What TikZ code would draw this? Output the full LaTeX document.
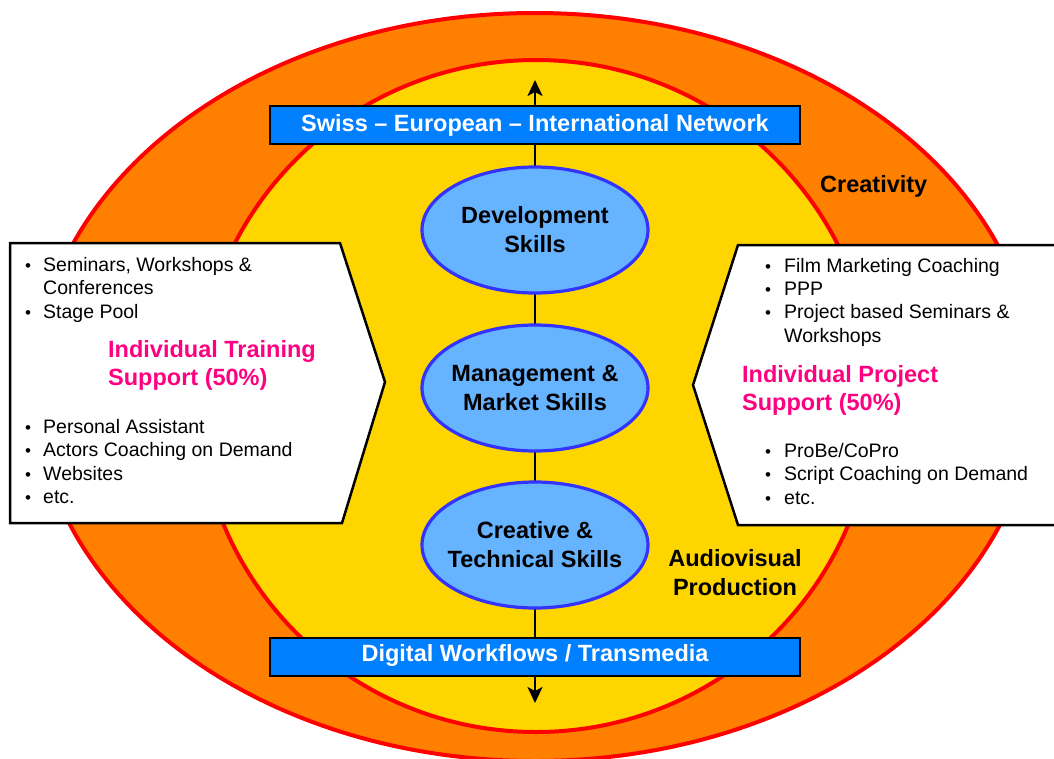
\documentclass[tikz,border=0pt]{standalone}
\usepackage{fontspec}
\setmainfont{Liberation Sans}
\usetikzlibrary{arrows.meta,shapes.geometric}
\definecolor{orng}{HTML}{FF8000}
\definecolor{yel}{HTML}{FFD500}
\definecolor{redline}{HTML}{FF0000}
\definecolor{boxblue}{HTML}{0080FF}
\definecolor{ellfill}{HTML}{66B3FF}
\definecolor{ellline}{HTML}{3333FF}
\definecolor{pinktxt}{HTML}{FF0080}
\begin{document}
\begin{tikzpicture}[x=1pt,y=-1pt,
  body/.style={anchor=base west,inner sep=0pt,font=\fontsize{19.5}{23.5}\selectfont},
  bul/.style={anchor=base west,inner sep=0pt,font=\fontsize{17}{19}\selectfont},
  pinklabel/.style={anchor=base west,inner sep=0pt,text=pinktxt,font=\bfseries\fontsize{23.5}{28}\selectfont},
  blacklabel/.style={inner sep=0pt,font=\bfseries\fontsize{23.5}{28}\selectfont},
  skill/.style={ellipse,draw=ellline,line width=3.2pt,fill=ellfill,minimum width=226pt,minimum height=126pt,inner xsep=-70pt,inner ysep=0pt,align=center,font=\bfseries\fontsize{23.5}{29}\selectfont},
  netbox/.style={rectangle,draw=black,line width=2pt,fill=boxblue,minimum width=530pt,minimum height=38pt,inner sep=0pt,text=white,font=\bfseries\fontsize{23.5}{28}\selectfont},
  sidebox/.style={draw=black,line width=2.5pt,fill=white,line join=miter},
  axisarrow/.style={line width=2.5pt,{Stealth[length=16pt,width=15pt,inset=4pt]}-{Stealth[length=16pt,width=15pt,inset=4pt]}}
]
\useasboundingbox (0,0) rectangle (1054,758);
% rings
\draw[fill=orng,draw=redline,line width=4pt] (535,387) ellipse [x radius=500, y radius=374];
\draw[fill=yel,draw=redline,line width=4pt] (536,396) ellipse [x radius=338, y radius=336];
\node[blacklabel,anchor=base west] (creat) at (820,192) {Creativity};
% axis arrow
\coordinate (toptip) at (535,80);
\coordinate (bottip) at (535,703);
\draw[axisarrow] (toptip) -- (bottip);
% network boxes
\node[netbox,text height=17pt,text depth=5pt] (net) at (535,125) {Swiss – European – International Network};
\node[netbox,text height=17pt,text depth=8pt] (dig) at (535,656.5) {Digital Workflows / Transmedia};
% skills
\node[skill] (dev) at (535,230) {Development\\Skills};
\node[skill] (man) at (535,388) {Management \&\\Market Skills};
\node[skill] (cre) at (535,545) {Creative \&\\Technical Skills};
\node[blacklabel,anchor=base] (av1) at (735,566) {Audiovisual};
\node[blacklabel,anchor=base] (av2) at (735,595) {Production};
% left side box
\draw[sidebox] (10,243) -- (340,243) -- (385,382) -- (342,523) -- (10,523) -- cycle;
\node[bul] (lb1) at (25,271) {•};
\node[body] (lt1) at (43,271) {Seminars, Workshops \&};
\node[body] (lt2) at (43,294) {Conferences};
\node[bul] (lb2) at (25,318) {•};
\node[body] (lt3) at (43,318) {Stage Pool};
\node[pinklabel] (lp1) at (108,357) {Individual Training};
\node[pinklabel] (lp2) at (108,385) {Support (50\%)};
\node[bul] (lb3) at (25,433) {•};
\node[body] (lt4) at (43,433) {Personal Assistant};
\node[bul] (lb4) at (25,456) {•};
\node[body] (lt5) at (43,456) {Actors Coaching on Demand};
\node[bul] (lb5) at (25,480) {•};
\node[body] (lt6) at (43,480) {Websites};
\node[bul] (lb6) at (25,503) {•};
\node[body] (lt7) at (43,503) {etc.};
% right side box
\draw[sidebox] (1070,245) -- (738,245) -- (693,385) -- (738,525) -- (1070,525);
\node[bul] (rb1) at (765,272) {•};
\node[body] (rt1) at (784,272) {Film Marketing Coaching};
\node[bul] (rb2) at (765,295) {•};
\node[body] (rt2) at (784,295) {PPP};
\node[bul] (rb3) at (765,318) {•};
\node[body] (rt3) at (784,318) {Project based Seminars \&};
\node[body] (rt4) at (784,342) {Workshops};
\node[pinklabel] (rp1) at (742,382) {Individual Project};
\node[pinklabel] (rp2) at (742,410) {Support (50\%)};
\node[bul] (rb4) at (765,457) {•};
\node[body] (rt5) at (784,457) {ProBe/CoPro};
\node[bul] (rb5) at (765,480) {•};
\node[body] (rt6) at (784,480) {Script Coaching on Demand};
\node[bul] (rb6) at (765,504) {•};
\node[body] (rt7) at (784,504) {etc.};
\end{tikzpicture}
\end{document}
